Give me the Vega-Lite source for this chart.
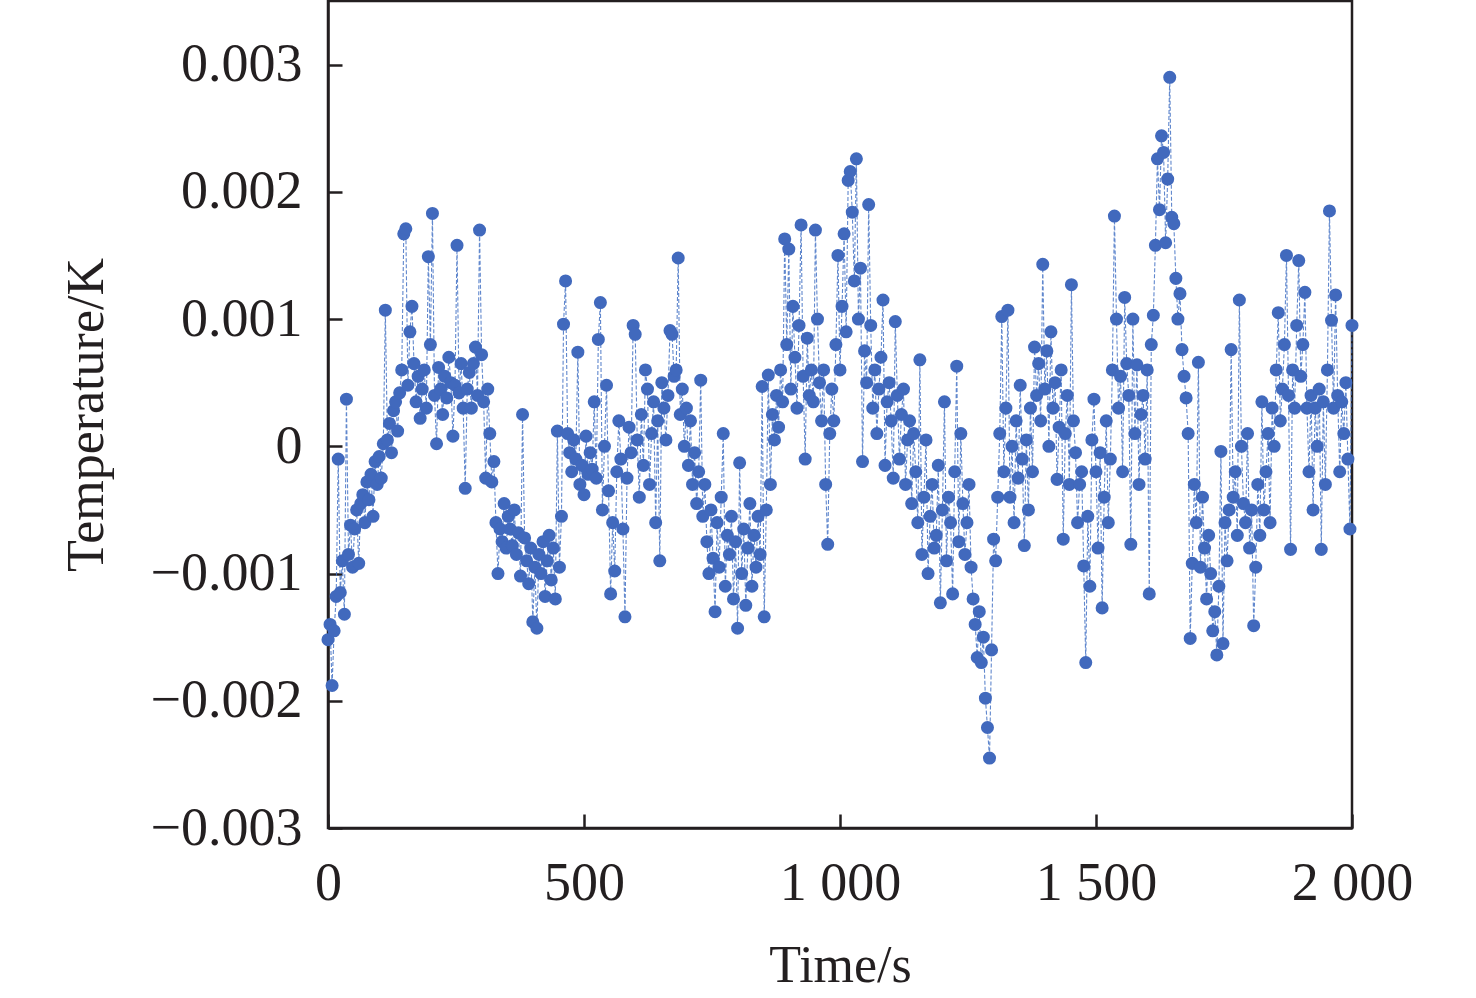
{
  "$schema": "https://vega.github.io/schema/vega-lite/v6.json",
  "width": 1024,
  "height": 827,
  "autosize": {"type": "none"},
  "padding": {"left": 328, "top": 1, "right": 124, "bottom": 170},
  "background": "white",
  "data": {
    "values": [
      {"t":0,"v":-0.00152},{"t":4,"v":-0.0014},{"t":8,"v":-0.00188},{"t":12,"v":-0.00145},{"t":16,"v":-0.00118},{"t":20,"v":-0.0001},{"t":24,"v":-0.00115},{"t":28,"v":-0.0009},{"t":32,"v":-0.00132},{"t":36,"v":0.00037},
      {"t":40,"v":-0.00085},{"t":44,"v":-0.00062},{"t":48,"v":-0.00095},{"t":52,"v":-0.00065},{"t":56,"v":-0.0005},{"t":60,"v":-0.00092},{"t":64,"v":-0.00045},{"t":68,"v":-0.00038},{"t":72,"v":-0.0006},{"t":76,"v":-0.00028},
      {"t":80,"v":-0.00042},{"t":84,"v":-0.00022},{"t":88,"v":-0.00055},{"t":92,"v":-0.00012},{"t":96,"v":-0.0003},{"t":100,"v":-0.00008},{"t":104,"v":-0.00025},{"t":108,"v":0.00002},{"t":112,"v":0.00107},{"t":116,"v":0.00005},
      {"t":120,"v":0.00018},{"t":124,"v":-0.00005},{"t":128,"v":0.00028},{"t":132,"v":0.00035},{"t":136,"v":0.00012},{"t":140,"v":0.00042},{"t":144,"v":0.0006},{"t":148,"v":0.00167},{"t":152,"v":0.00171},{"t":156,"v":0.00048},
      {"t":160,"v":0.0009},{"t":164,"v":0.0011},{"t":168,"v":0.00065},{"t":172,"v":0.00035},{"t":176,"v":0.00055},{"t":180,"v":0.00022},{"t":184,"v":0.00045},{"t":188,"v":0.0006},{"t":192,"v":0.0003},{"t":196,"v":0.00149},
      {"t":200,"v":0.0008},{"t":204,"v":0.00183},{"t":208,"v":0.0004},{"t":212,"v":0.00002},{"t":216,"v":0.00062},{"t":220,"v":0.00045},{"t":224,"v":0.00025},{"t":228,"v":0.00055},{"t":232,"v":0.00038},{"t":236,"v":0.0007},
      {"t":240,"v":0.0005},{"t":244,"v":0.00008},{"t":248,"v":0.00048},{"t":252,"v":0.00158},{"t":256,"v":0.00042},{"t":260,"v":0.00065},{"t":264,"v":0.0003},{"t":268,"v":-0.00033},{"t":272,"v":0.00045},{"t":276,"v":0.00058},
      {"t":280,"v":0.0003},{"t":284,"v":0.00065},{"t":288,"v":0.00078},{"t":292,"v":0.0004},{"t":296,"v":0.0017},{"t":300,"v":0.00072},{"t":304,"v":0.00035},{"t":308,"v":-0.00025},{"t":312,"v":0.00045},{"t":316,"v":0.0001},
      {"t":320,"v":-0.00028},{"t":324,"v":-0.00012},{"t":328,"v":-0.0006},{"t":332,"v":-0.001},{"t":336,"v":-0.00065},{"t":340,"v":-0.00075},{"t":344,"v":-0.00045},{"t":348,"v":-0.0008},{"t":352,"v":-0.00055},{"t":356,"v":-0.00065},
      {"t":360,"v":-0.00078},{"t":364,"v":-0.0005},{"t":368,"v":-0.00085},{"t":372,"v":-0.00068},{"t":376,"v":-0.00102},{"t":380,"v":0.00025},{"t":384,"v":-0.00072},{"t":388,"v":-0.0009},{"t":392,"v":-0.00108},{"t":396,"v":-0.0008},
      {"t":400,"v":-0.00138},{"t":404,"v":-0.00095},{"t":408,"v":-0.00143},{"t":412,"v":-0.00085},{"t":416,"v":-0.001},{"t":420,"v":-0.00075},{"t":424,"v":-0.00118},{"t":428,"v":-0.0009},{"t":432,"v":-0.0007},{"t":436,"v":-0.00105},
      {"t":440,"v":-0.0008},{"t":444,"v":-0.0012},{"t":448,"v":0.00012},{"t":452,"v":-0.00095},{"t":456,"v":-0.00055},{"t":460,"v":0.00096},{"t":464,"v":0.0013},{"t":468,"v":0.0001},{"t":472,"v":-0.00005},{"t":476,"v":-0.0002},
      {"t":480,"v":0.00005},{"t":484,"v":-0.0001},{"t":488,"v":0.00074},{"t":492,"v":-0.0003},{"t":496,"v":-0.00015},{"t":500,"v":-0.00038},{"t":504,"v":0.00008},{"t":508,"v":-0.00022},{"t":512,"v":-0.00005},{"t":516,"v":-0.00018},
      {"t":520,"v":0.00035},{"t":524,"v":-0.00025},{"t":528,"v":0.00084},{"t":532,"v":0.00113},{"t":536,"v":-0.0005},{"t":540,"v":0},{"t":544,"v":0.00048},{"t":548,"v":-0.00035},{"t":552,"v":-0.00116},{"t":556,"v":-0.0006},
      {"t":560,"v":-0.00098},{"t":564,"v":-0.0002},{"t":568,"v":0.0002},{"t":572,"v":-0.0001},{"t":576,"v":-0.00065},{"t":580,"v":-0.00134},{"t":584,"v":-0.00025},{"t":588,"v":0.00015},{"t":592,"v":-0.00005},{"t":596,"v":0.00095},
      {"t":600,"v":0.00088},{"t":604,"v":0.00005},{"t":608,"v":-0.0004},{"t":612,"v":0.00025},{"t":616,"v":-0.00015},{"t":620,"v":0.0006},{"t":624,"v":0.00045},{"t":628,"v":-0.0003},{"t":632,"v":0.0001},{"t":636,"v":0.00035},
      {"t":640,"v":-0.0006},{"t":644,"v":0.0002},{"t":648,"v":-0.0009},{"t":652,"v":0.0005},{"t":656,"v":0.0003},{"t":660,"v":0.00005},{"t":664,"v":0.0004},{"t":668,"v":0.00091},{"t":672,"v":0.00088},{"t":676,"v":0.00055},
      {"t":680,"v":0.0006},{"t":684,"v":0.00148},{"t":688,"v":0.00025},{"t":692,"v":0.00045},{"t":696,"v":0},{"t":700,"v":0.0003},{"t":704,"v":-0.00015},{"t":708,"v":0.0002},{"t":712,"v":-0.0003},{"t":716,"v":-0.00005},
      {"t":720,"v":-0.00045},{"t":724,"v":-0.0002},{"t":728,"v":0.00052},{"t":732,"v":-0.00055},{"t":736,"v":-0.0003},{"t":740,"v":-0.00075},{"t":744,"v":-0.001},{"t":748,"v":-0.0005},{"t":752,"v":-0.00088},{"t":756,"v":-0.0013},
      {"t":760,"v":-0.0006},{"t":764,"v":-0.00095},{"t":768,"v":-0.0004},{"t":772,"v":0.0001},{"t":776,"v":-0.0011},{"t":780,"v":-0.0007},{"t":784,"v":-0.00085},{"t":788,"v":-0.00055},{"t":792,"v":-0.0012},{"t":796,"v":-0.00075},
      {"t":800,"v":-0.00143},{"t":804,"v":-0.00013},{"t":808,"v":-0.001},{"t":812,"v":-0.00065},{"t":816,"v":-0.00125},{"t":820,"v":-0.0008},{"t":824,"v":-0.00045},{"t":828,"v":-0.0011},{"t":832,"v":-0.0007},{"t":836,"v":-0.00095},
      {"t":840,"v":-0.00055},{"t":844,"v":-0.00085},{"t":848,"v":0.00047},{"t":852,"v":-0.00134},{"t":856,"v":-0.0005},{"t":860,"v":0.00056},{"t":864,"v":-0.0003},{"t":868,"v":0.00025},{"t":872,"v":0.00005},{"t":876,"v":0.0004},
      {"t":880,"v":0.00015},{"t":884,"v":0.0006},{"t":888,"v":0.00035},{"t":892,"v":0.00163},{"t":896,"v":0.0008},{"t":900,"v":0.00155},{"t":904,"v":0.00045},{"t":908,"v":0.0011},{"t":912,"v":0.0007},{"t":916,"v":0.0003},
      {"t":920,"v":0.00095},{"t":924,"v":0.00174},{"t":928,"v":0.00055},{"t":932,"v":-0.0001},{"t":936,"v":0.00085},{"t":940,"v":0.0004},{"t":944,"v":0.0006},{"t":948,"v":0.00035},{"t":952,"v":0.0017},{"t":956,"v":0.001},
      {"t":960,"v":0.0005},{"t":964,"v":0.0002},{"t":968,"v":0.0006},{"t":972,"v":-0.0003},{"t":976,"v":-0.00077},{"t":980,"v":0.0001},{"t":984,"v":0.00045},{"t":988,"v":0.0002},{"t":992,"v":0.0008},{"t":996,"v":0.0015},
      {"t":1000,"v":0.0006},{"t":1004,"v":0.0011},{"t":1008,"v":0.00167},{"t":1012,"v":0.0009},{"t":1016,"v":0.00209},{"t":1020,"v":0.00216},{"t":1024,"v":0.00184},{"t":1028,"v":0.0013},{"t":1032,"v":0.00226},{"t":1036,"v":0.001},
      {"t":1040,"v":0.0014},{"t":1044,"v":-0.00012},{"t":1048,"v":0.00075},{"t":1052,"v":0.0005},{"t":1056,"v":0.0019},{"t":1060,"v":0.00095},{"t":1064,"v":0.0003},{"t":1068,"v":0.0006},{"t":1072,"v":0.0001},{"t":1076,"v":0.00045},
      {"t":1080,"v":0.0007},{"t":1084,"v":0.00115},{"t":1088,"v":-0.00015},{"t":1092,"v":0.00035},{"t":1096,"v":0.0005},{"t":1100,"v":0.0002},{"t":1104,"v":-0.00025},{"t":1108,"v":0.00098},{"t":1112,"v":0.0004},{"t":1116,"v":-0.0001},
      {"t":1120,"v":0.00025},{"t":1124,"v":0.00045},{"t":1128,"v":-0.0003},{"t":1132,"v":0.00005},{"t":1136,"v":0.0002},{"t":1140,"v":-0.00045},{"t":1144,"v":0.0001},{"t":1148,"v":-0.0002},{"t":1152,"v":-0.0006},{"t":1156,"v":0.00068},
      {"t":1160,"v":-0.00085},{"t":1164,"v":-0.0004},{"t":1168,"v":0.00005},{"t":1172,"v":-0.001},{"t":1176,"v":-0.00055},{"t":1180,"v":-0.0003},{"t":1184,"v":-0.0008},{"t":1188,"v":-0.0007},{"t":1192,"v":-0.00015},{"t":1196,"v":-0.00123},
      {"t":1200,"v":-0.0005},{"t":1204,"v":0.00035},{"t":1208,"v":-0.0009},{"t":1212,"v":-0.0004},{"t":1216,"v":-0.0006},{"t":1220,"v":-0.00116},{"t":1224,"v":-0.0002},{"t":1228,"v":0.00063},{"t":1232,"v":-0.00075},{"t":1236,"v":0.0001},
      {"t":1240,"v":-0.00045},{"t":1244,"v":-0.00085},{"t":1248,"v":-0.0006},{"t":1252,"v":-0.0003},{"t":1256,"v":-0.00095},{"t":1260,"v":-0.0012},{"t":1264,"v":-0.0014},{"t":1268,"v":-0.00166},{"t":1272,"v":-0.0013},{"t":1276,"v":-0.0017},
      {"t":1280,"v":-0.0015},{"t":1284,"v":-0.00198},{"t":1288,"v":-0.00221},{"t":1292,"v":-0.00245},{"t":1296,"v":-0.0016},{"t":1300,"v":-0.00073},{"t":1304,"v":-0.0009},{"t":1308,"v":-0.0004},{"t":1312,"v":0.0001},{"t":1316,"v":0.00102},
      {"t":1320,"v":-0.0002},{"t":1324,"v":0.0003},{"t":1328,"v":0.00107},{"t":1332,"v":-0.0004},{"t":1336,"v":0},{"t":1340,"v":-0.0006},{"t":1344,"v":0.0002},{"t":1348,"v":-0.00025},{"t":1352,"v":0.00048},{"t":1356,"v":-0.0001},
      {"t":1360,"v":-0.00078},{"t":1364,"v":0.00005},{"t":1368,"v":-0.0005},{"t":1372,"v":0.0003},{"t":1376,"v":-0.0002},{"t":1380,"v":0.00078},{"t":1384,"v":0.0004},{"t":1388,"v":0.00065},{"t":1392,"v":0.0002},{"t":1396,"v":0.00143},
      {"t":1400,"v":0.00045},{"t":1404,"v":0.00075},{"t":1408,"v":0},{"t":1412,"v":0.0009},{"t":1416,"v":0.0003},{"t":1420,"v":0.0005},{"t":1424,"v":-0.00026},{"t":1428,"v":0.00015},{"t":1432,"v":0.0006},{"t":1436,"v":-0.00073},
      {"t":1440,"v":0.0001},{"t":1444,"v":0.0004},{"t":1448,"v":-0.0003},{"t":1452,"v":0.00127},{"t":1456,"v":0.0002},{"t":1460,"v":-0.00005},{"t":1464,"v":-0.0006},{"t":1468,"v":-0.0003},{"t":1472,"v":-0.0002},{"t":1476,"v":-0.00094},
      {"t":1480,"v":-0.0017},{"t":1484,"v":-0.00055},{"t":1488,"v":-0.0011},{"t":1492,"v":0.00005},{"t":1496,"v":0.00037},{"t":1500,"v":-0.0002},{"t":1504,"v":-0.0008},{"t":1508,"v":-0.00005},{"t":1512,"v":-0.00127},{"t":1516,"v":-0.0004},
      {"t":1520,"v":0.0002},{"t":1524,"v":-0.0006},{"t":1528,"v":-0.0001},{"t":1532,"v":0.0006},{"t":1536,"v":0.00181},{"t":1540,"v":0.001},{"t":1544,"v":0.0003},{"t":1548,"v":0.00055},{"t":1552,"v":-0.0002},{"t":1556,"v":0.00117},
      {"t":1560,"v":0.00065},{"t":1564,"v":0.0004},{"t":1568,"v":-0.00077},{"t":1572,"v":0.001},{"t":1576,"v":0.0001},{"t":1580,"v":0.00064},{"t":1584,"v":-0.0003},{"t":1588,"v":0.00025},{"t":1592,"v":0.0004},{"t":1596,"v":-0.0001},
      {"t":1600,"v":0.0006},{"t":1604,"v":-0.00116},{"t":1608,"v":0.0008},{"t":1612,"v":0.00103},{"t":1616,"v":0.00158},{"t":1620,"v":0.00226},{"t":1624,"v":0.00186},{"t":1628,"v":0.00244},{"t":1632,"v":0.00231},{"t":1636,"v":0.0016},
      {"t":1640,"v":0.0021},{"t":1644,"v":0.0029},{"t":1648,"v":0.0018},{"t":1652,"v":0.00175},{"t":1656,"v":0.00132},{"t":1660,"v":0.001},{"t":1664,"v":0.0012},{"t":1668,"v":0.00076},{"t":1672,"v":0.00055},{"t":1676,"v":0.00038},
      {"t":1680,"v":0.0001},{"t":1684,"v":-0.00151},{"t":1688,"v":-0.00092},{"t":1692,"v":-0.0003},{"t":1696,"v":-0.0006},{"t":1700,"v":0.00066},{"t":1704,"v":-0.00095},{"t":1708,"v":-0.0004},{"t":1712,"v":-0.0008},{"t":1716,"v":-0.0012},
      {"t":1720,"v":-0.0007},{"t":1724,"v":-0.001},{"t":1728,"v":-0.00145},{"t":1732,"v":-0.0013},{"t":1736,"v":-0.00164},{"t":1740,"v":-0.0011},{"t":1744,"v":-0.00004},{"t":1748,"v":-0.00155},{"t":1752,"v":-0.0006},{"t":1756,"v":-0.0009},
      {"t":1760,"v":-0.0005},{"t":1764,"v":0.00076},{"t":1768,"v":-0.0004},{"t":1772,"v":-0.0002},{"t":1776,"v":-0.0007},{"t":1780,"v":0.00115},{"t":1784,"v":0},{"t":1788,"v":-0.00045},{"t":1792,"v":-0.0006},{"t":1796,"v":0.0001},
      {"t":1800,"v":-0.0008},{"t":1804,"v":-0.0005},{"t":1808,"v":-0.00141},{"t":1812,"v":-0.00095},{"t":1816,"v":-0.0003},{"t":1820,"v":-0.0007},{"t":1824,"v":0.00035},{"t":1828,"v":-0.0005},{"t":1832,"v":-0.0002},{"t":1836,"v":0.0001},
      {"t":1840,"v":-0.0006},{"t":1844,"v":0.0003},{"t":1848,"v":0},{"t":1852,"v":0.0006},{"t":1856,"v":0.00105},{"t":1860,"v":0.0002},{"t":1864,"v":0.00045},{"t":1868,"v":0.0008},{"t":1872,"v":0.0015},{"t":1876,"v":0.0004},
      {"t":1880,"v":-0.00081},{"t":1884,"v":0.0006},{"t":1888,"v":0.0003},{"t":1892,"v":0.00095},{"t":1896,"v":0.00146},{"t":1900,"v":0.00055},{"t":1904,"v":0.0008},{"t":1908,"v":0.00121},{"t":1912,"v":0.0003},{"t":1916,"v":-0.0002},
      {"t":1920,"v":0.0004},{"t":1924,"v":-0.0005},{"t":1928,"v":0.0003},{"t":1932,"v":0},{"t":1936,"v":0.00045},{"t":1940,"v":-0.00081},{"t":1944,"v":0.00035},{"t":1948,"v":-0.0003},{"t":1952,"v":0.0006},{"t":1956,"v":0.00185},
      {"t":1960,"v":0.00099},{"t":1964,"v":0.0003},{"t":1968,"v":0.00119},{"t":1972,"v":0.0004},{"t":1976,"v":-0.0002},{"t":1980,"v":0.00035},{"t":1984,"v":0.0001},{"t":1988,"v":0.0005},{"t":1992,"v":-0.0001},{"t":1996,"v":-0.00065},
      {"t":2000,"v":0.00095}
    ]
  },
  "encoding": {
    "x": {
      "field": "t",
      "type": "quantitative",
      "title": "Time/s",
      "scale": {"domain": [0, 2000], "nice": false, "zero": false},
      "axis": {
        "values": [0, 500, 1000, 1500, 2000],
        "labelExpr": "replace(format(datum.value, ','), ',', ' ')",
        "labelFlush": false,
        "labelBound": false,
        "grid": false,
        "tickSize": -14,
        "labelPadding": 42,
        "titlePadding": 30
      }
    },
    "y": {
      "field": "v",
      "type": "quantitative",
      "title": "Temperature/K",
      "scale": {"domain": [-0.003, 0.0035], "nice": false, "zero": false},
      "axis": {
        "values": [-0.003, -0.002, -0.001, 0, 0.001, 0.002, 0.003],
        "format": "~f",
        "labelFlush": false,
        "labelBound": false,
        "grid": false,
        "tickSize": -14,
        "labelPadding": 40,
        "titlePadding": 37
      }
    }
  },
  "layer": [
    {
      "mark": {"type": "line", "color": "#4472c4", "strokeWidth": 1.1, "strokeDash": [4, 2], "opacity": 0.85}
    },
    {
      "mark": {"type": "point", "filled": true, "shape": "circle", "size": 170, "color": "#4169bd", "opacity": 1}
    }
  ],
  "config": {
    "font": "Liberation Serif",
    "view": {"stroke": "#231f20", "strokeWidth": 2.5},
    "axis": {
      "domainColor": "#231f20",
      "domainWidth": 2.5,
      "tickColor": "#231f20",
      "tickWidth": 2.5,
      "labelFont": "Liberation Serif",
      "labelFontSize": 54,
      "labelColor": "#231f20",
      "titleFont": "Liberation Serif",
      "titleFontSize": 52,
      "titleFontWeight": "normal",
      "titleColor": "#231f20"
    }
  }
}
